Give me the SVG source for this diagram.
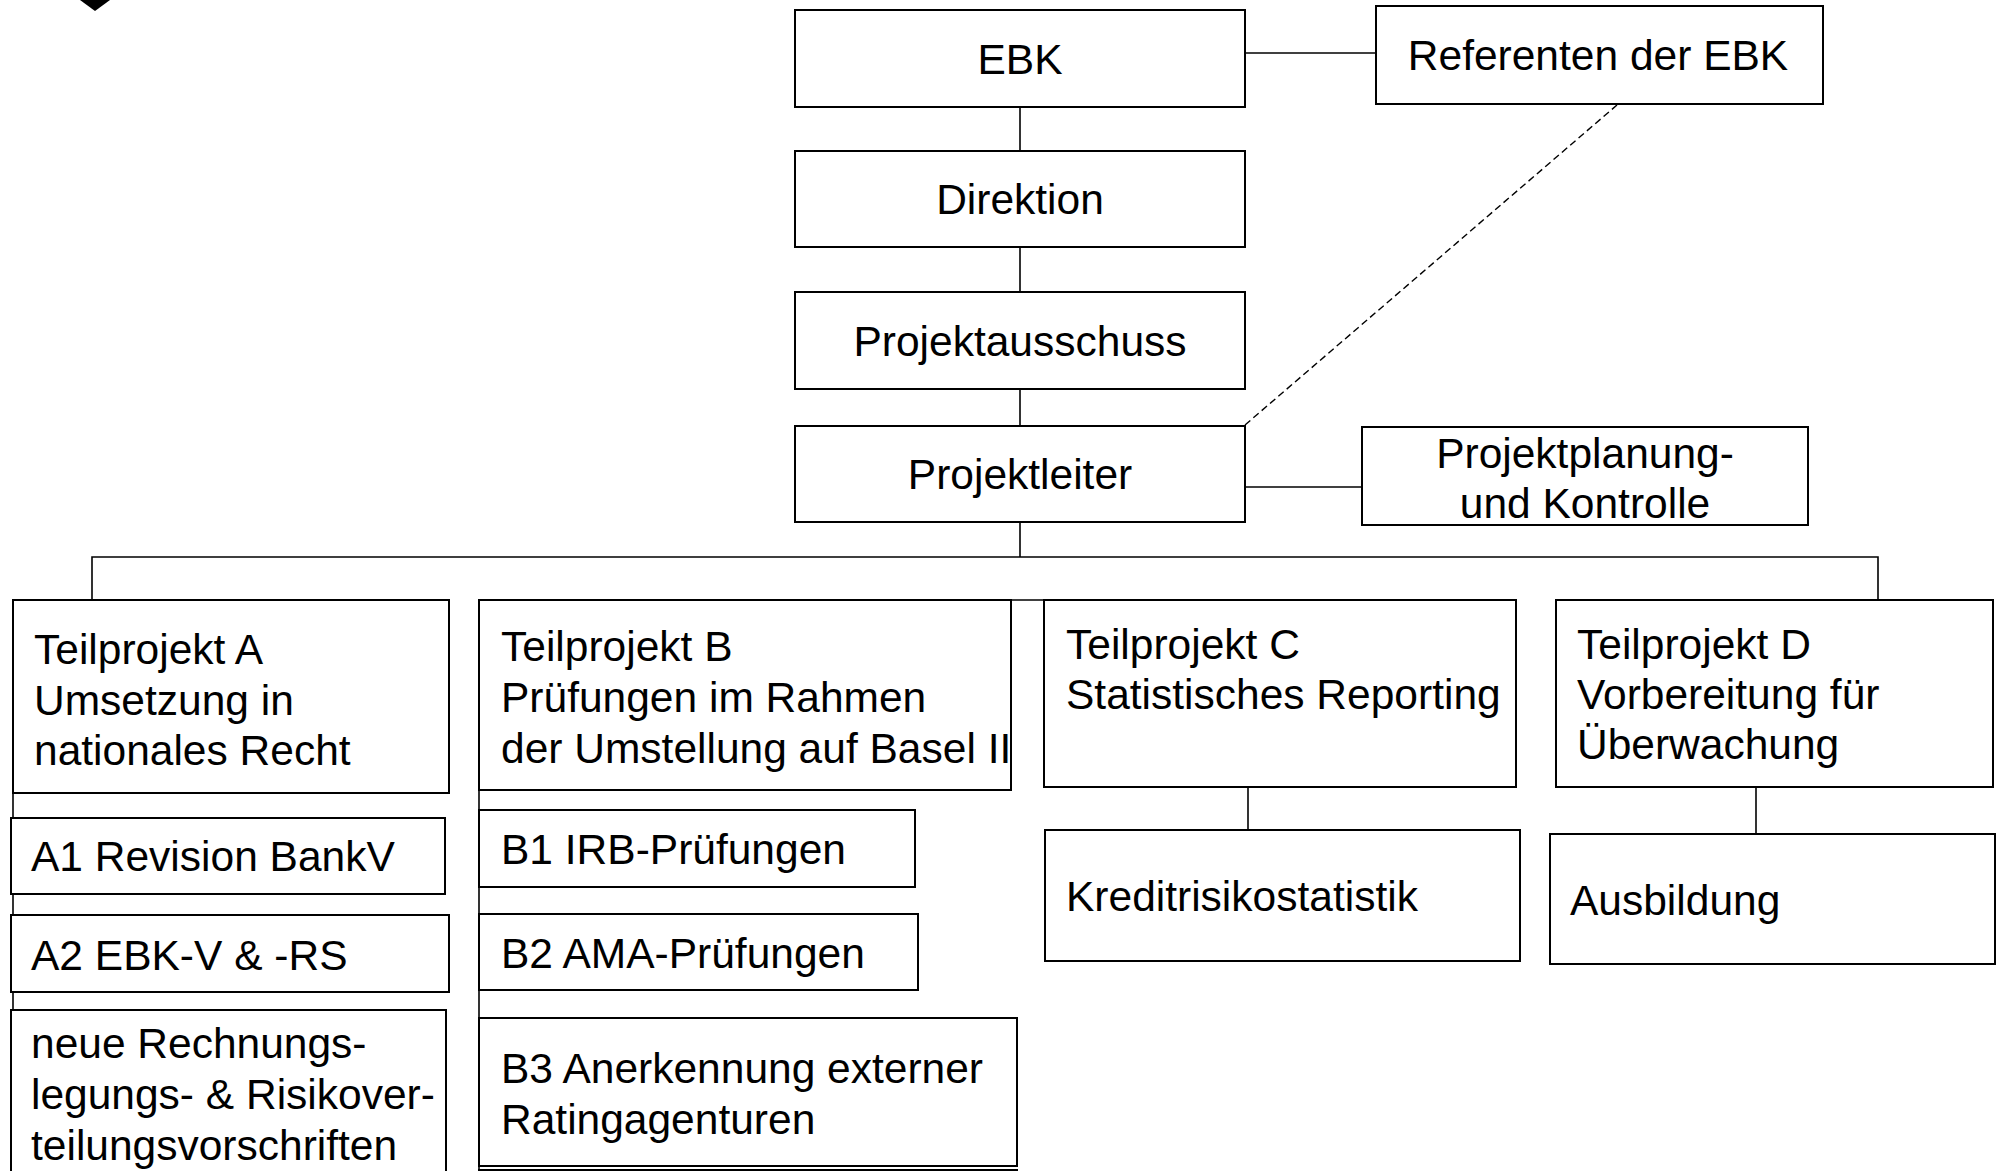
<svg xmlns="http://www.w3.org/2000/svg" width="1999" height="1171" viewBox="0 0 1999 1171">
<style>
.box{fill:#fff;stroke:#000;stroke-width:2}
.ln{fill:none;stroke:#000;stroke-width:1.6}
.dash{fill:none;stroke:#000;stroke-width:1.4;stroke-dasharray:7 4}
text{font-family:"Liberation Sans",Arial,sans-serif;font-size:42.5px;fill:#000}
.c{text-anchor:middle}
</style>
<rect width="1999" height="1171" fill="#fff"/>
<polygon points="80,0 110,0 95,11" fill="#000"/>
<g id="connectors">
<line class="ln" x1="1020" y1="107" x2="1020" y2="151"/>
<line class="ln" x1="1020" y1="247" x2="1020" y2="292"/>
<line class="ln" x1="1020" y1="389" x2="1020" y2="426"/>
<line class="ln" x1="1020" y1="521" x2="1020" y2="557"/>
<line class="ln" x1="1245" y1="53" x2="1376" y2="53"/>
<line class="ln" x1="1245" y1="487" x2="1362" y2="487"/>
<line class="dash" x1="1245" y1="425" x2="1617" y2="105"/>
<polyline class="ln" points="92,600 92,557 1878,557 1878,600"/>
<line class="ln" x1="1011" y1="600" x2="1044" y2="600"/>
<line class="ln" x1="13" y1="793" x2="13" y2="1171"/>
<line class="ln" x1="479" y1="790" x2="479" y2="1171"/>
<line class="ln" x1="1248" y1="787" x2="1248" y2="830"/>
<line class="ln" x1="1756" y1="787" x2="1756" y2="834"/>
<rect x="1013" y="11" width="2" height="2" fill="#000"/>
</g>
<g id="ebk"><rect class="box" x="795" y="10" width="450" height="97"/><text class="c" x="1020" y="74">EBK</text></g>
<g id="referenten"><rect class="box" x="1376" y="6" width="447" height="98"/><text class="c" x="1598" y="70">Referenten der EBK</text></g>
<g id="direktion"><rect class="box" x="795" y="151" width="450" height="96"/><text class="c" x="1020" y="214">Direktion</text></g>
<g id="projektausschuss"><rect class="box" x="795" y="292" width="450" height="97"/><text class="c" x="1020" y="356">Projektausschuss</text></g>
<g id="projektleiter"><rect class="box" x="795" y="426" width="450" height="96"/><text class="c" x="1020" y="489">Projektleiter</text></g>
<g id="projektplanung"><rect class="box" x="1362" y="427" width="446" height="98"/><text class="c" x="1585" y="468">Projektplanung-</text><text class="c" x="1585" y="518">und Kontrolle</text></g>
<g id="teilprojekt-a"><rect class="box" x="13" y="600" width="436" height="193"/><text x="34" y="664">Teilprojekt A</text><text x="34" y="715">Umsetzung in</text><text x="34" y="765">nationales Recht</text></g>
<g id="teilprojekt-b"><rect class="box" x="479" y="600" width="532" height="190"/><text x="501" y="661">Teilprojekt B</text><text x="501" y="712">Prüfungen im Rahmen</text><text x="501" y="763">der Umstellung auf Basel II</text></g>
<g id="teilprojekt-c"><rect class="box" x="1044" y="600" width="472" height="187"/><text x="1066" y="659">Teilprojekt C</text><text x="1066" y="709">Statistisches Reporting</text></g>
<g id="teilprojekt-d"><rect class="box" x="1556" y="600" width="437" height="187"/><text x="1577" y="659">Teilprojekt D</text><text x="1577" y="709">Vorbereitung für</text><text x="1577" y="759">Überwachung</text></g>
<g id="a1"><rect class="box" x="11" y="818" width="434" height="76"/><text x="31" y="871">A1 Revision BankV</text></g>
<g id="a2"><rect class="box" x="11" y="915" width="438" height="77"/><text x="31" y="970">A2 EBK-V &amp; -RS</text></g>
<g id="a3"><rect class="box" x="11" y="1010" width="435" height="200"/><text x="31" y="1058">neue Rechnungs-</text><text x="31" y="1109">legungs- &amp; Risikover-</text><text x="31" y="1160">teilungsvorschriften</text></g>
<g id="b1"><rect class="box" x="479" y="810" width="436" height="77"/><text x="501" y="864">B1 IRB-Prüfungen</text></g>
<g id="b2"><rect class="box" x="479" y="914" width="439" height="76"/><text x="501" y="968">B2 AMA-Prüfungen</text></g>
<g id="b3"><rect class="box" x="479" y="1018" width="538" height="148"/><text x="501" y="1083">B3 Anerkennung externer</text><text x="501" y="1134">Ratingagenturen</text></g>
<g id="b4"><rect class="box" x="479" y="1170" width="538" height="60"/></g>
<g id="kreditrisiko"><rect class="box" x="1045" y="830" width="475" height="131"/><text x="1066" y="911">Kreditrisikostatistik</text></g>
<g id="ausbildung"><rect class="box" x="1550" y="834" width="445" height="130"/><text x="1570" y="915">Ausbildung</text></g>
</svg>
